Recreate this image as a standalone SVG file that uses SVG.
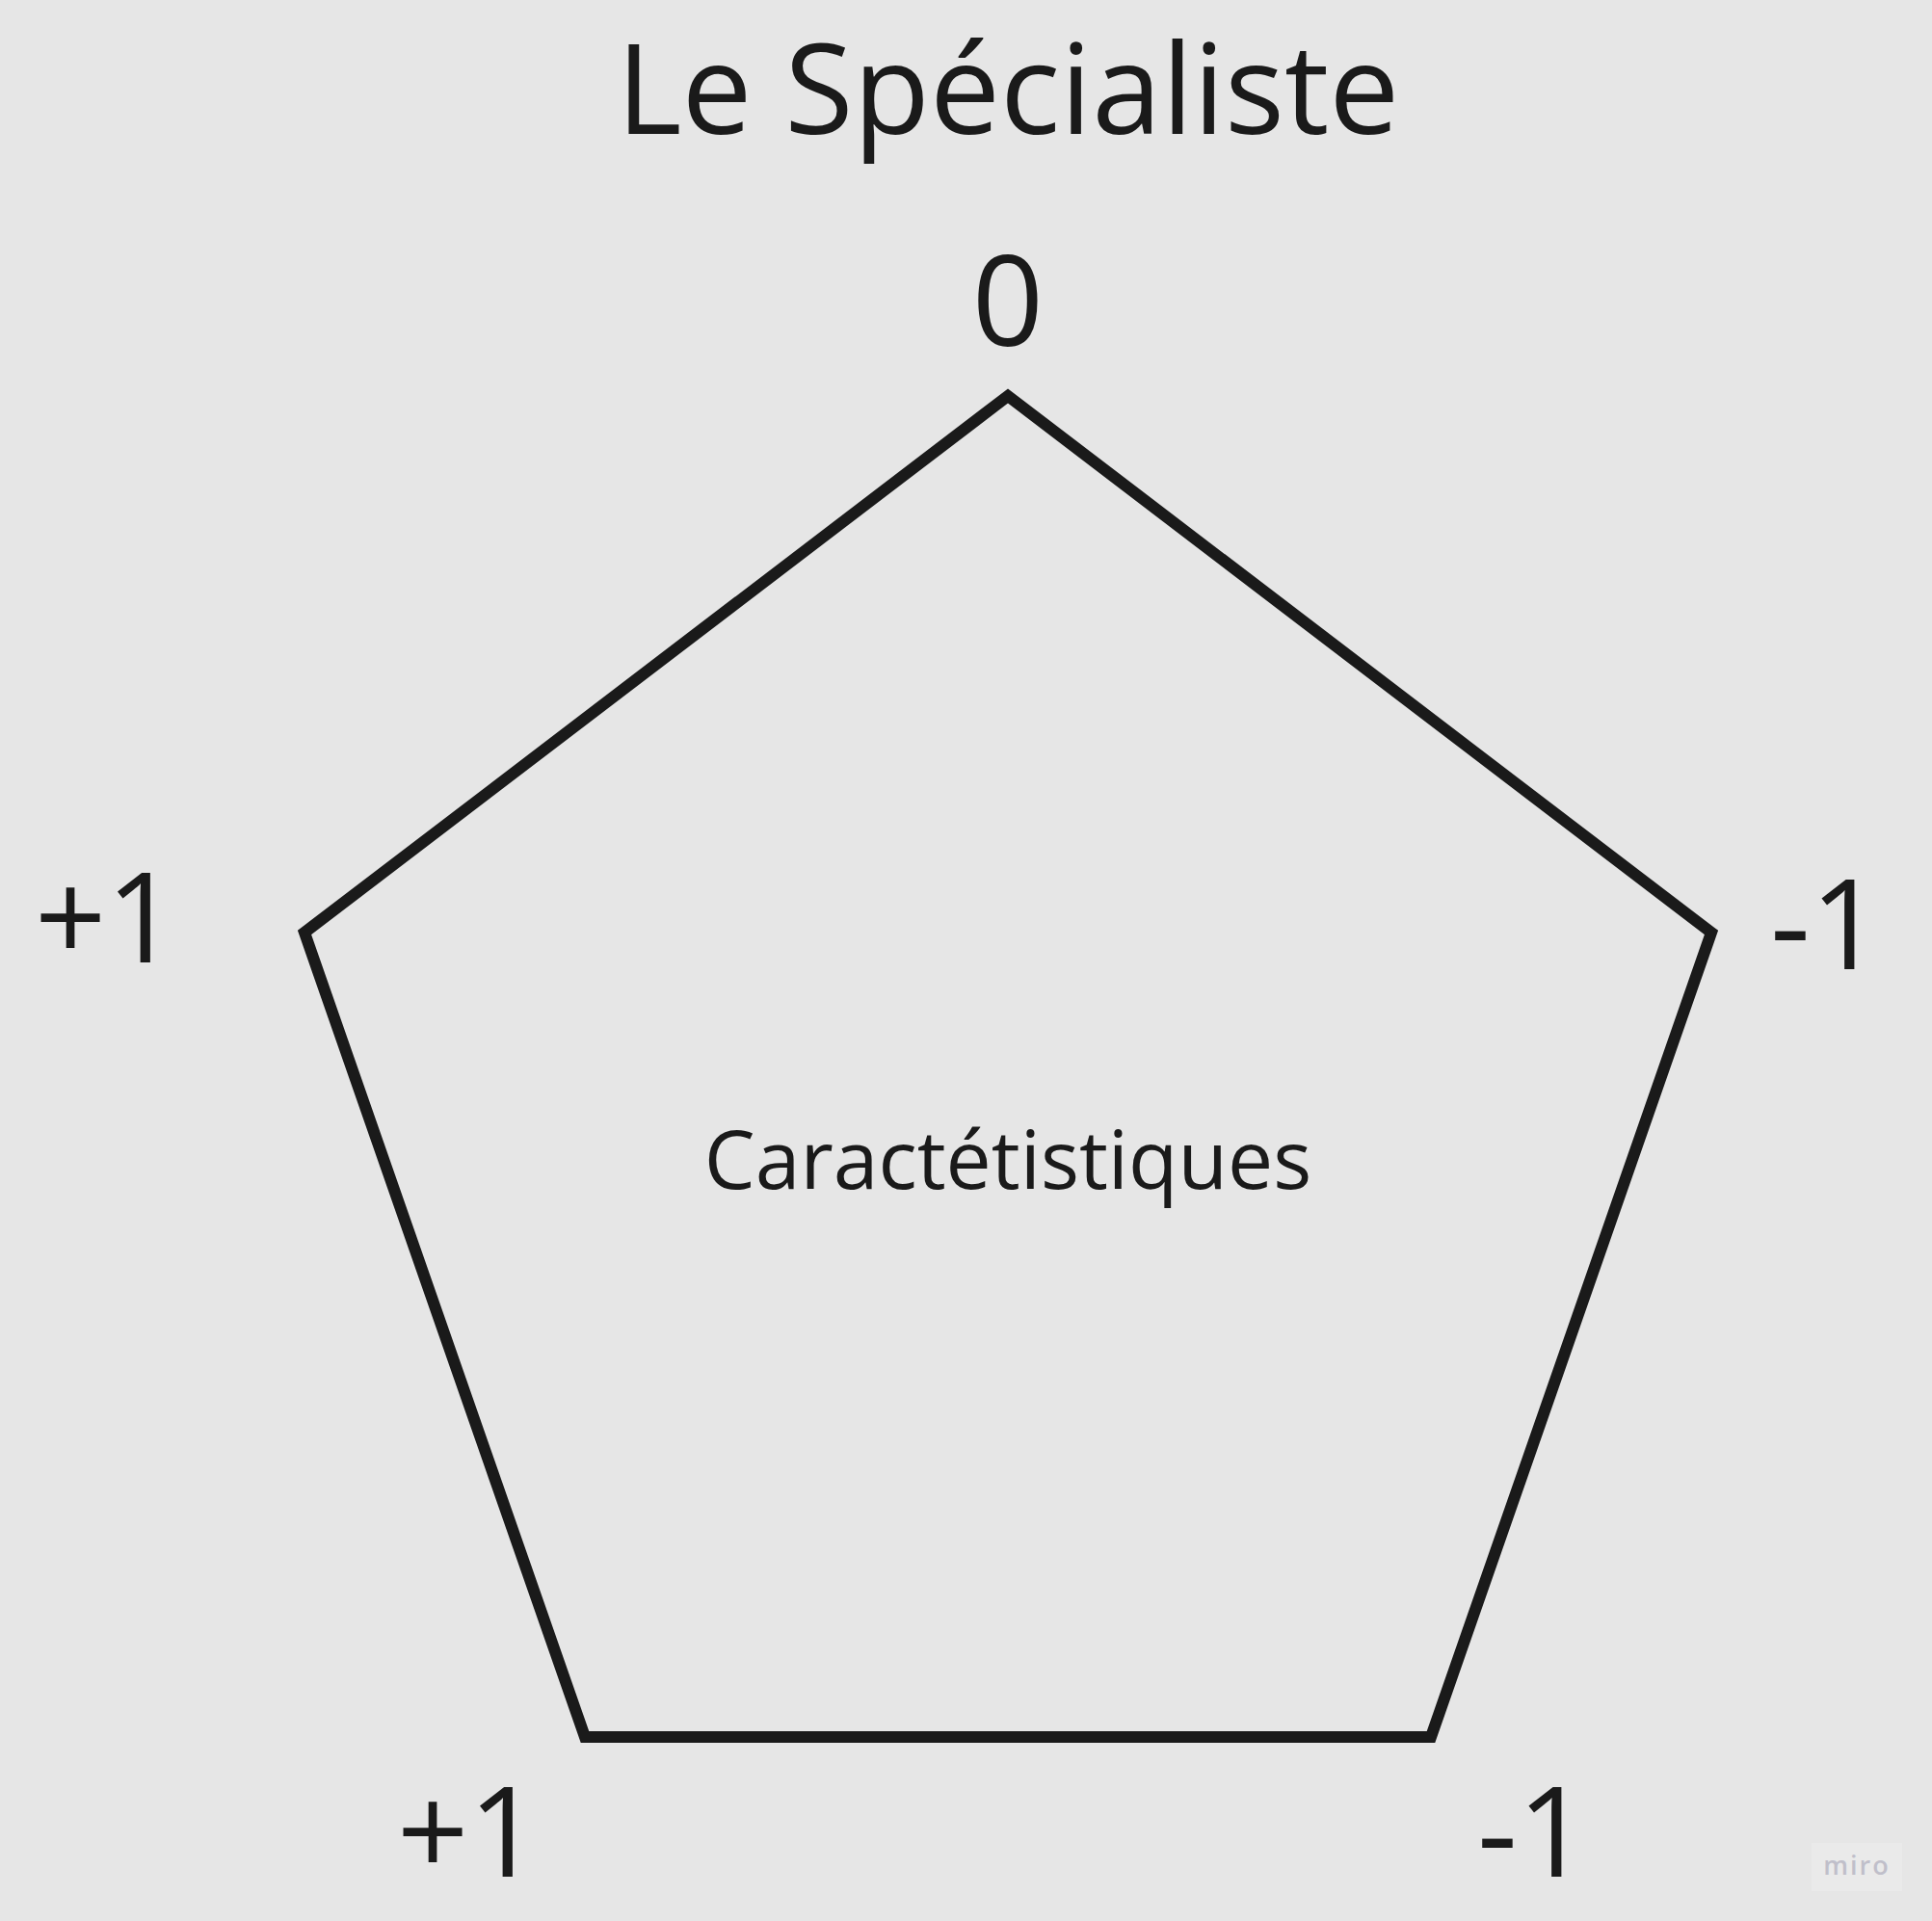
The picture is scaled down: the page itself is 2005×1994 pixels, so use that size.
<svg xmlns="http://www.w3.org/2000/svg" width="2005" height="1994" viewBox="0 0 2005 1994">
  <style>
    .t { font-family: "Open Sans", "Noto Sans", sans-serif; fill: #1a1a1a; }
    .big { font-size: 130px; }
    .mid { font-size: 84px; }
    .wm { font-family: "Open Sans", "Noto Sans", sans-serif; font-size: 27px; font-weight: 600; fill: #c0bfca; letter-spacing: 2px; }
  </style>
  <rect width="2005" height="1994" fill="#e6e6e6"/>
  <g id="title">
    <text class="t big" x="1046" y="139" text-anchor="middle">Le Spécialiste</text>
  </g>
  <g id="connectors">
    <polygon points="1046,411 1776,968 1485,1803 607,1803 316,968" fill="none" stroke="#1a1a1a" stroke-width="12" stroke-linejoin="miter"/>
  </g>
  <g id="center-label">
    <text class="t mid" x="1046" y="1234" text-anchor="middle">Caractétistiques</text>
  </g>
  <g id="label-top">
    <text class="t big" x="1046" y="359" text-anchor="middle">0</text>
  </g>
  <g id="label-left">
    <text class="t big" x="36" y="999">+1</text>
  </g>
  <g id="label-right">
    <text class="t big" x="1837" y="1006">-1</text>
  </g>
  <g id="label-bottom-left">
    <text class="t big" x="412" y="1948">+1</text>
  </g>
  <g id="label-bottom-right">
    <text class="t big" x="1533" y="1948">-1</text>
  </g>
  <g id="watermark">
    <rect x="1880" y="1913" width="94" height="50" fill="#eaeaea"/>
    <text class="wm" x="1927" y="1946" text-anchor="middle">miro</text>
  </g>
</svg>
